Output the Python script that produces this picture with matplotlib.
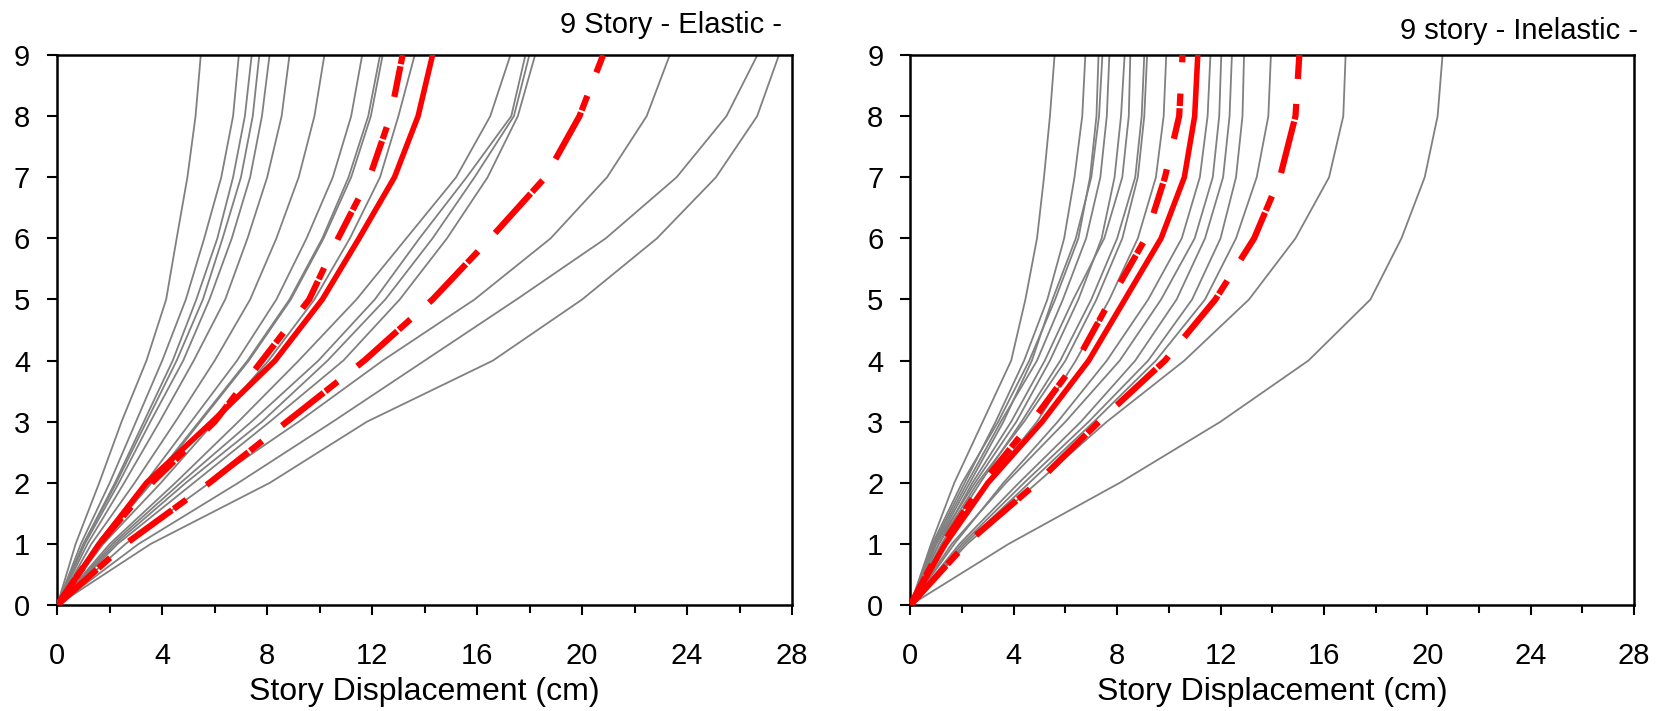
import matplotlib.pyplot as plt
from matplotlib.ticker import MultipleLocator

# 글꼴 설정
plt.rcParams["font.family"] = ["Liberation Sans", "DejaVu Sans"]

# 층 번호 (0 = 지반)
stories = [0, 1, 2, 3, 4, 5, 6, 7, 8, 9]

# 탄성 해석 - 지진파별 층 변위 (cm)
elastic_records = [
    [0, 0.7, 1.6, 2.45, 3.4, 4.15, 4.55, 4.96, 5.27, 5.47],
    [0, 0.9, 2.0, 3.0, 4.0, 4.9, 5.6, 6.25, 6.7, 6.92],
    [0, 1.0, 2.2, 3.3, 4.4, 5.3, 6.1, 6.7, 7.15, 7.41],
    [0, 1.0, 2.25, 3.4, 4.55, 5.55, 6.3, 7.0, 7.45, 7.70],
    [0, 1.05, 2.35, 3.55, 4.8, 5.8, 6.65, 7.35, 7.8, 8.09],
    [0, 1.15, 2.55, 3.9, 5.2, 6.4, 7.25, 8.0, 8.55, 8.85],
    [0, 1.3, 2.95, 4.5, 6.0, 7.35, 8.35, 9.2, 9.8, 10.18],
    [0, 1.5, 3.35, 5.1, 6.85, 8.35, 9.5, 10.5, 11.2, 11.62],
    [0, 1.6, 3.55, 5.4, 7.25, 8.85, 10.1, 11.1, 11.85, 12.30],
    [0, 1.6, 3.6, 5.45, 7.3, 8.9, 10.15, 11.2, 11.95, 12.40],
    [0, 1.75, 3.95, 6.0, 8.05, 9.8, 11.15, 12.3, 13.0, 13.62],
    [0, 2.0, 4.5, 6.9, 9.2, 11.4, 13.3, 15.2, 16.5, 17.27],
    [0, 2.1, 4.7, 7.4, 9.95, 12.1, 13.8, 15.6, 17.3, 17.84],
    [0, 2.2, 4.9, 7.8, 10.3, 12.5, 14.3, 15.9, 17.4, 17.99],
    [0, 2.3, 5.2, 8.1, 10.9, 13.05, 14.85, 16.4, 17.55, 18.21],
    [0, 2.6, 5.8, 9.2, 12.4, 15.9, 18.8, 20.95, 22.46, 23.34],
    [0, 3.1, 6.9, 10.5, 14.0, 17.5, 20.9, 23.6, 25.5, 26.68],
    [0, 3.56, 8.1, 11.8, 16.6, 20.0, 22.85, 25.1, 26.67, 27.5],
]
elastic_mean = [0, 1.6, 3.4, 5.9, 8.3, 10.1, 11.5, 12.85, 13.75, 14.3]
elastic_median = [0, 1.6, 3.6, 6.0, 7.8, 9.6, 10.7, 11.9, 12.7, 13.16]
elastic_upper = [0, 2.6, 5.8, 8.75, 11.7, 14.3, 16.5, 18.6, 19.9, 20.8]

# 비탄성 해석 - 지진파별 층 변위 (cm)
inelastic_records = [
    [0, 0.8, 1.7, 2.8, 3.9, 4.45, 4.9, 5.17, 5.4, 5.58],
    [0, 0.9, 2.1, 3.3, 4.4, 5.3, 5.95, 6.35, 6.65, 6.77],
    [0, 0.85, 2.0, 3.4, 4.6, 5.6, 6.5, 6.95, 7.2, 7.28],
    [0, 1.0, 2.3, 3.6, 4.7, 5.5, 6.4, 7.0, 7.3, 7.43],
    [0, 0.95, 2.2, 3.5, 4.9, 5.9, 6.8, 7.35, 7.6, 7.70],
    [0, 1.0, 2.5, 4.1, 5.4, 6.5, 7.4, 7.9, 8.15, 8.29],
    [0, 1.1, 2.4, 3.9, 5.2, 6.3, 7.5, 8.2, 8.45, 8.51],
    [0, 1.2, 2.7, 4.3, 5.8, 7.0, 8.0, 8.7, 8.95, 9.05],
    [0, 1.1, 2.6, 4.4, 6.0, 7.2, 8.2, 8.8, 9.05, 9.16],
    [0, 1.3, 3.0, 4.9, 6.4, 7.7, 8.8, 9.5, 9.8, 9.90],
    [0, 1.7, 3.6, 5.7, 7.6, 9.2, 10.5, 11.2, 11.5, 11.61],
    [0, 1.6, 3.7, 6.0, 8.1, 9.7, 11.0, 11.7, 11.95, 12.03],
    [0, 1.9, 4.2, 6.6, 8.7, 10.3, 11.4, 12.1, 12.35, 12.44],
    [0, 2.0, 4.4, 6.9, 9.2, 10.9, 12.0, 12.6, 12.85, 12.91],
    [0, 2.1, 4.6, 7.1, 9.5, 11.4, 12.6, 13.4, 13.85, 13.95],
    [0, 2.2, 4.9, 7.6, 10.6, 13.1, 14.9, 16.2, 16.75, 16.84],
    [0, 3.8, 8.1, 12.0, 15.4, 17.8, 19.0, 19.9, 20.4, 20.59],
]
inelastic_mean = [0, 1.35, 3.0, 5.1, 6.9, 8.3, 9.7, 10.6, 11.0, 11.12]
inelastic_lower = [0, 1.25, 2.8, 4.7, 6.45, 7.75, 9.1, 9.85, 10.4, 10.53]
inelastic_upper = [0, 2.15, 4.9, 7.3, 9.85, 11.8, 13.3, 14.3, 14.9, 15.05]

medium_dash = (5, 0.35, 2, 5)
long_dash = (8.5, 0.35, 2.5, 4)


def draw_panel(ax, records, mean, left_red, right_red):
    for rec in records:
        ax.plot(rec, stories, color="#808080", lw=1.3, zorder=2)
    ax.plot(mean, stories, color="red", lw=4, zorder=4)
    ax.plot(left_red, stories, color="red", lw=4.5, dashes=medium_dash, zorder=3)
    ax.plot(right_red, stories, color="red", lw=4.5, dashes=long_dash, zorder=3)

    ax.set_xlim(0, 28)
    ax.set_ylim(0, 9)
    ax.xaxis.set_major_locator(MultipleLocator(4))
    ax.xaxis.set_minor_locator(MultipleLocator(2))
    ax.yaxis.set_major_locator(MultipleLocator(1))
    ax.tick_params(axis="both", which="major", direction="out", length=7.5, width=1.5, labelsize=21)
    ax.tick_params(axis="x", which="minor", direction="out", length=6, width=1.5)
    ax.tick_params(axis="x", which="major", pad=19)
    ax.tick_params(axis="y", which="major", pad=12)
    for sp in ax.spines.values():
        sp.set_linewidth(1.8)
    ax.set_xlabel("Story Displacement (cm)", fontsize=23, labelpad=5)


fig = plt.figure(figsize=(16.64, 7.11), dpi=100)
ax1 = fig.add_axes([0.0344, 0.149, 0.4416, 0.7736])
ax2 = fig.add_axes([0.5471, 0.149, 0.4349, 0.7736])

draw_panel(ax1, elastic_records, elastic_mean, elastic_median, elastic_upper)
draw_panel(ax2, inelastic_records, inelastic_mean, inelastic_lower, inelastic_upper)

fig.text(782 / 1664, 1 - 25 / 711, "9 Story - Elastic -", fontsize=21, ha="right", va="center")
fig.text(1638 / 1664, 1 - 31 / 711, "9 story - Inelastic -", fontsize=21, ha="right", va="center")

plt.savefig("out.png", dpi=100)
